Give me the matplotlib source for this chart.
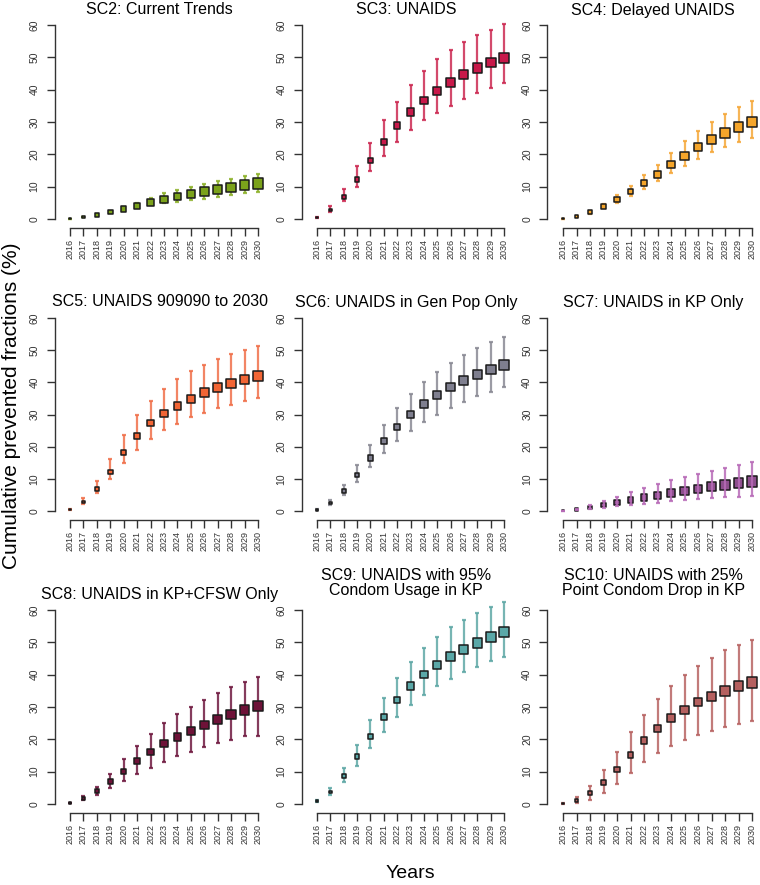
import matplotlib
matplotlib.use("Agg")
import matplotlib.pyplot as plt
import numpy as np

plt.rcParams['font.family'] = ['Liberation Sans', 'DejaVu Sans']

years = list(range(2016, 2031))

titles = ["SC2: Current Trends", "SC3: UNAIDS", "SC4: Delayed UNAIDS",
          "SC5: UNAIDS 909090 to 2030", "SC6: UNAIDS in Gen Pop Only", "SC7: UNAIDS in KP Only",
          "SC8: UNAIDS in KP+CFSW Only", "SC9: UNAIDS with 95%\nCondom Usage in KP",
          "SC10: UNAIDS with 25%\nPoint Condom Drop in KP"]

sc2_mid = [0.1, 0.6, 1.3, 2.2, 3.1, 4.1, 5.1, 6.0, 6.9, 7.7, 8.5, 9.2, 9.8, 10.4, 11.0]
sc2_lo = [0.1, 0.5, 1.1, 1.9, 2.7, 3.5, 4.3, 4.8, 5.3, 5.8, 6.3, 6.9, 7.4, 7.9, 8.4]
sc2_hi = [0.1, 0.7, 1.5, 2.5, 3.6, 4.8, 6.5, 8.0, 9.0, 10.0, 10.8, 11.6, 12.5, 13.2, 14.0]

sc3_mid = [0.5, 2.8, 6.9, 12.3, 18.1, 23.8, 28.9, 33.1, 36.6, 39.7, 42.3, 44.6, 46.7, 48.4, 49.9]
sc3_lo = [0.4, 2.2, 5.5, 9.9, 14.8, 19.5, 23.8, 27.5, 30.5, 32.9, 35.0, 37.1, 39.0, 40.6, 42.2]
sc3_hi = [0.7, 3.9, 9.3, 16.3, 23.5, 30.5, 36.3, 41.5, 45.8, 49.4, 52.3, 54.8, 57.0, 58.6, 60.3]

sc4_mid = [0.1, 0.8, 2.1, 3.9, 6.1, 8.5, 11.1, 13.9, 16.8, 19.6, 22.3, 24.5, 26.6, 28.5, 30.1]
sc4_lo = [0.1, 0.6, 1.7, 3.3, 5.0, 7.1, 9.3, 11.6, 14.1, 16.5, 18.7, 20.6, 22.2, 23.8, 25.0]
sc4_hi = [0.1, 1.0, 2.5, 4.7, 7.5, 10.3, 13.5, 16.8, 20.4, 24.0, 27.3, 30.1, 32.5, 34.6, 36.5]

sc5_mid = [0.5, 2.8, 6.8, 12.1, 18.1, 23.4, 27.3, 30.2, 32.7, 34.9, 36.8, 38.3, 39.7, 40.9, 42.0]
sc5_lo = [0.4, 2.2, 5.5, 9.8, 14.8, 19.1, 22.5, 25.1, 27.2, 29.1, 30.6, 31.9, 33.1, 34.1, 35.0]
sc5_hi = [0.7, 3.9, 9.3, 16.2, 23.5, 29.8, 34.3, 37.9, 40.9, 43.4, 45.5, 47.3, 48.8, 50.2, 51.4]

sc6_mid = [0.4, 2.5, 6.2, 11.2, 16.5, 21.7, 26.1, 30.0, 33.3, 36.1, 38.5, 40.6, 42.4, 44.0, 45.5]
sc6_lo = [0.3, 1.9, 4.9, 9.1, 13.6, 18.0, 21.8, 25.0, 27.7, 30.0, 32.1, 34.0, 35.6, 37.0, 38.4]
sc6_hi = [0.5, 3.4, 8.1, 14.2, 20.6, 26.8, 32.1, 36.4, 40.1, 43.3, 46.1, 48.5, 50.6, 52.4, 54.0]

sc7_mid = [0.1, 0.4, 1.1, 1.9, 2.7, 3.4, 4.2, 4.9, 5.6, 6.2, 6.9, 7.5, 8.1, 8.7, 9.2]
sc7_lo = [0.05, 0.2, 0.6, 1.0, 1.4, 1.8, 2.2, 2.6, 3.0, 3.3, 3.6, 3.9, 4.2, 4.5, 4.8]
sc7_hi = [0.1, 0.7, 1.8, 3.1, 4.5, 5.9, 7.3, 8.4, 9.5, 10.6, 11.6, 12.5, 13.5, 14.4, 15.2]

sc8_mid = [0.3, 1.7, 4.0, 6.9, 10.1, 13.3, 16.1, 18.6, 20.8, 22.7, 24.5, 26.1, 27.6, 29.0, 30.3]
sc8_lo = [0.2, 1.2, 2.8, 4.9, 7.2, 9.2, 11.2, 13.0, 14.7, 16.2, 17.5, 18.8, 19.9, 20.9, 20.9]
sc8_hi = [0.4, 2.4, 5.4, 9.3, 13.8, 17.9, 21.7, 24.9, 27.7, 30.1, 32.3, 34.3, 36.1, 37.8, 39.4]

sc9_mid = [0.9, 3.7, 8.6, 14.7, 20.9, 27.0, 32.1, 36.5, 40.0, 43.0, 45.7, 47.9, 49.8, 51.6, 53.2]
sc9_lo = [0.7, 2.9, 6.8, 11.8, 17.2, 22.3, 26.8, 30.6, 33.8, 36.4, 38.7, 40.7, 42.5, 44.1, 45.6]
sc9_hi = [1.1, 5.0, 11.2, 18.3, 25.9, 32.9, 39.0, 44.0, 48.2, 51.6, 54.6, 57.0, 59.1, 61.0, 62.5]

sc10_mid = [0.1, 1.1, 3.3, 6.6, 10.7, 15.3, 19.6, 23.4, 26.6, 29.2, 31.5, 33.4, 34.9, 36.4, 37.6]
sc10_lo = [0.05, 0.4, 1.2, 3.4, 6.2, 9.6, 13.0, 15.7, 17.9, 19.8, 21.4, 22.6, 23.7, 24.7, 25.6]
sc10_hi = [0.2, 2.2, 5.6, 10.5, 16.1, 22.2, 27.5, 32.4, 36.5, 40.0, 42.8, 45.3, 47.5, 49.3, 50.8]

mids = [sc2_mid, sc3_mid, sc4_mid, sc5_mid, sc6_mid, sc7_mid, sc8_mid, sc9_mid, sc10_mid]
los = [sc2_lo, sc3_lo, sc4_lo, sc5_lo, sc6_lo, sc7_lo, sc8_lo, sc9_lo, sc10_lo]
his = [sc2_hi, sc3_hi, sc4_hi, sc5_hi, sc6_hi, sc7_hi, sc8_hi, sc9_hi, sc10_hi]

fills = ["#7BA21B", "#C8194A", "#F5A52A", "#F26535", "#7F7F8F", "#8E4F8E", "#6E1238", "#5BA8A8", "#B5605F"]
bars = ["#8DB22A", "#CC2A52", "#F5A83A", "#F0704A", "#8A8A94", "#B86BB8", "#701A40", "#5FA8A6", "#B86463"]

W, H = 760, 885
fig = plt.figure(figsize=(W / 100, H / 100), dpi=100)

# pixel positions of 2016 / 2030 per column, and of 0 / 60 per row
x16 = [70, 317, 563]
x30 = [258, 504, 752]
y0 = [219, 511, 804]
y60 = [25, 318, 610]
xlo, xhi = 2014.85, 2030.5
ylo, yhi = -2.7, 62.6

# marker grows with year (outer size in px -> side in pt)
px = 3.0 * np.sqrt(np.arange(len(years)) + 1)
msize = np.maximum(px * 0.72 - 1.0, 0.8)
axcol = "#333333"

for k in range(9):
    r, c = divmod(k, 3)
    sx = (x30[c] - x16[c]) / 14.0
    sy = (y0[r] - y60[r]) / 60.0
    left = x16[c] - (2016 - xlo) * sx
    right = x30[c] + (xhi - 2030) * sx
    bottom = y0[r] - ylo * sy
    top = y60[r] - (yhi - 60) * sy
    ax = fig.add_axes([left / W, 1 - bottom / H, (right - left) / W, (bottom - top) / H])
    ax.set_xlim(xlo, xhi)
    ax.set_ylim(ylo, yhi)

    mid = np.array(mids[k])
    lo = np.array(los[k])
    hi = np.array(his[k])
    bz = 3 if k == 5 else 1
    ax.errorbar(years, mid, yerr=[mid - lo, hi - mid], fmt='none', ecolor=bars[k],
                elinewidth=1.6, capsize=1.6, capthick=1.6, alpha=0.85, zorder=bz, clip_on=False)
    ax.scatter(years, mid, s=msize ** 2, marker='s', c=fills[k], edgecolors="#1a1a1a",
               linewidths=1.1, zorder=2, clip_on=False)

    for side in ['top', 'right']:
        ax.spines[side].set_visible(False)
    for side in ['left', 'bottom']:
        ax.spines[side].set_color(axcol)
        ax.spines[side].set_linewidth(1.0)
    ax.spines['left'].set_bounds(0, 60)
    ax.spines['bottom'].set_bounds(2016, 2030)
    ax.set_yticks(range(0, 61, 10))
    ax.set_yticklabels([str(v) for v in range(0, 61, 10)], rotation=90, va='center', fontsize=7.5)
    ax.set_xticks(years)
    ax.set_xticklabels([str(y) for y in years], rotation=90, fontsize=6.5)
    ax.tick_params(axis='both', direction='out', length=6, width=1.0, color=axcol,
                   labelcolor="#333333")
    ax.tick_params(axis='y', pad=5)
    ax.tick_params(axis='x', pad=2)
    ax.patch.set_visible(False)

    cx = (left + right) / 2
    ty = [10, 302, 583][r]
    if r == 2 and "\n" not in titles[k]:
        ty = 594
    fig.text(cx / W, 1 - ty / H, titles[k], ha='center', va='center', fontsize=11.5,
             linespacing=1.05)

fig.text(12 / W, 1 - 406 / H, "Cumulative prevented fractions (%)", rotation=90,
         ha='center', va='center', fontsize=15)
fig.text(410 / W, 1 - 874 / H, "Years", ha='center', va='center', fontsize=14)

fig.savefig("out.png", dpi=100)
